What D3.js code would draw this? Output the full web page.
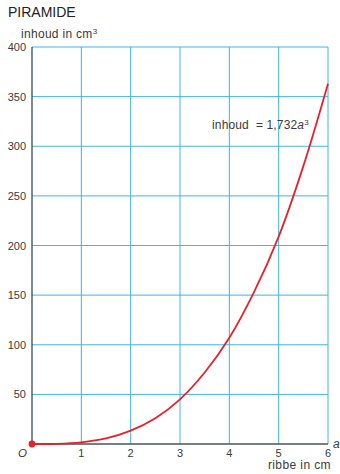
<!DOCTYPE html>
<html>
<head>
<meta charset="utf-8">
<script src="https://cdn.jsdelivr.net/npm/d3@7"></script>
<style>
  body { margin: 0; background: #fff; }
  svg { display: block; font-family: "Liberation Sans", Arial, sans-serif; }
</style>
</head>
<body>
<div id="chart"></div>
<script>
// values
const ribbe = [0, 0.5, 1, 1.5, 2, 2.5, 3, 3.5, 4, 4.5, 5, 5.5, 6];
const inhoud = [0, 0.2, 1.7, 5.6, 13.5, 26, 45, 72, 107, 153, 209, 280, 363];
const xTicks = [1, 2, 3, 4, 5, 6];
const yTicks = [50, 100, 150, 200, 250, 300, 350, 400];

const W = 340, H = 474;
const margin = { top: 47, right: 12, bottom: 30, left: 32 };
const width = W - margin.left - margin.right;   // 296
const height = H - margin.top - margin.bottom;  // 397

const svg = d3.select("#chart").append("svg")
    .attr("width", W).attr("height", H);

const g = svg.append("g").attr("transform", `translate(${margin.left},${margin.top})`);

const x = d3.scaleLinear().domain([0, 6]).range([0, width]);
const y = d3.scaleLinear().domain([0, 400]).range([height, 0]);

const gridColor = "#42b4e6";
const textColor = "#3a3a3a";

// grid
g.selectAll("line.vgrid").data(xTicks).enter().append("line")
    .attr("x1", d => x(d)).attr("x2", d => x(d))
    .attr("y1", 0).attr("y2", height)
    .attr("stroke", gridColor).attr("stroke-width", 1);
g.selectAll("line.hgrid").data(yTicks).enter().append("line")
    .attr("x1", 0).attr("x2", width)
    .attr("y1", d => y(d)).attr("y2", d => y(d))
    .attr("stroke", gridColor).attr("stroke-width", 1);

// axes
g.append("line").attr("x1", 0).attr("x2", 0).attr("y1", 0).attr("y2", height)
    .attr("stroke", "#2f4d5a").attr("stroke-width", 1.3);
g.append("line").attr("x1", 0).attr("x2", width).attr("y1", height).attr("y2", height)
    .attr("stroke", "#4a5458").attr("stroke-width", 1.3);

// tick labels
g.selectAll("text.ylab").data(yTicks).enter().append("text")
    .attr("x", -6).attr("y", d => y(d) + 4)
    .attr("text-anchor", "end").attr("font-size", 11).attr("fill", textColor)
    .text(d => d);
g.selectAll("text.xlab").data(xTicks).enter().append("text")
    .attr("x", d => x(d)).attr("y", height + 13)
    .attr("text-anchor", "middle").attr("font-size", 11).attr("fill", textColor)
    .text(d => d);

g.append("text").attr("x", -5).attr("y", height + 13)
    .attr("text-anchor", "end").attr("font-size", 11.5).attr("font-style", "italic").attr("fill", textColor)
    .text("O");
g.append("text").attr("x", width + 5).attr("y", height + 4)
    .attr("font-size", 12).attr("font-style", "italic").attr("fill", textColor)
    .text("a");
g.append("text").attr("x", width + 3).attr("y", height + 25)
    .attr("text-anchor", "end").attr("font-size", 12).attr("letter-spacing", 0.4).attr("fill", textColor)
    .text("ribbe in cm");

// curve
const pts = ribbe.map((a, i) => [a, inhoud[i]]);
g.append("path").datum(pts)
    .attr("fill", "none").attr("stroke", "#e8202a").attr("stroke-width", 1.8)
    .attr("d", d3.line().x(d => x(d[0])).y(d => y(d[1])).curve(d3.curveCatmullRom));
g.append("circle").attr("cx", x(0)).attr("cy", y(0)).attr("r", 3.4).attr("fill", "#e8202a");

// titles
svg.append("text").attr("x", 8).attr("y", 17)
    .attr("font-size", 14).attr("fill", "#222").text("PIRAMIDE");
const yl = svg.append("text").attr("x", 21).attr("y", 38)
    .attr("font-size", 12).attr("letter-spacing", 0.3).attr("fill", textColor);
yl.append("tspan").text("inhoud in cm");
yl.append("tspan").attr("font-size", 8).attr("dy", -4).text("3");

const lab = svg.append("text").attr("x", 212).attr("y", 129)
    .attr("font-size", 12).attr("letter-spacing", 0.15).attr("fill", textColor).attr("xml:space", "preserve");
lab.append("tspan").text("inhoud  = 1,732");
lab.append("tspan").attr("font-style", "italic").text("a");
lab.append("tspan").attr("font-size", 8).attr("dy", -4).text("3");
</script>
</body>
</html>
